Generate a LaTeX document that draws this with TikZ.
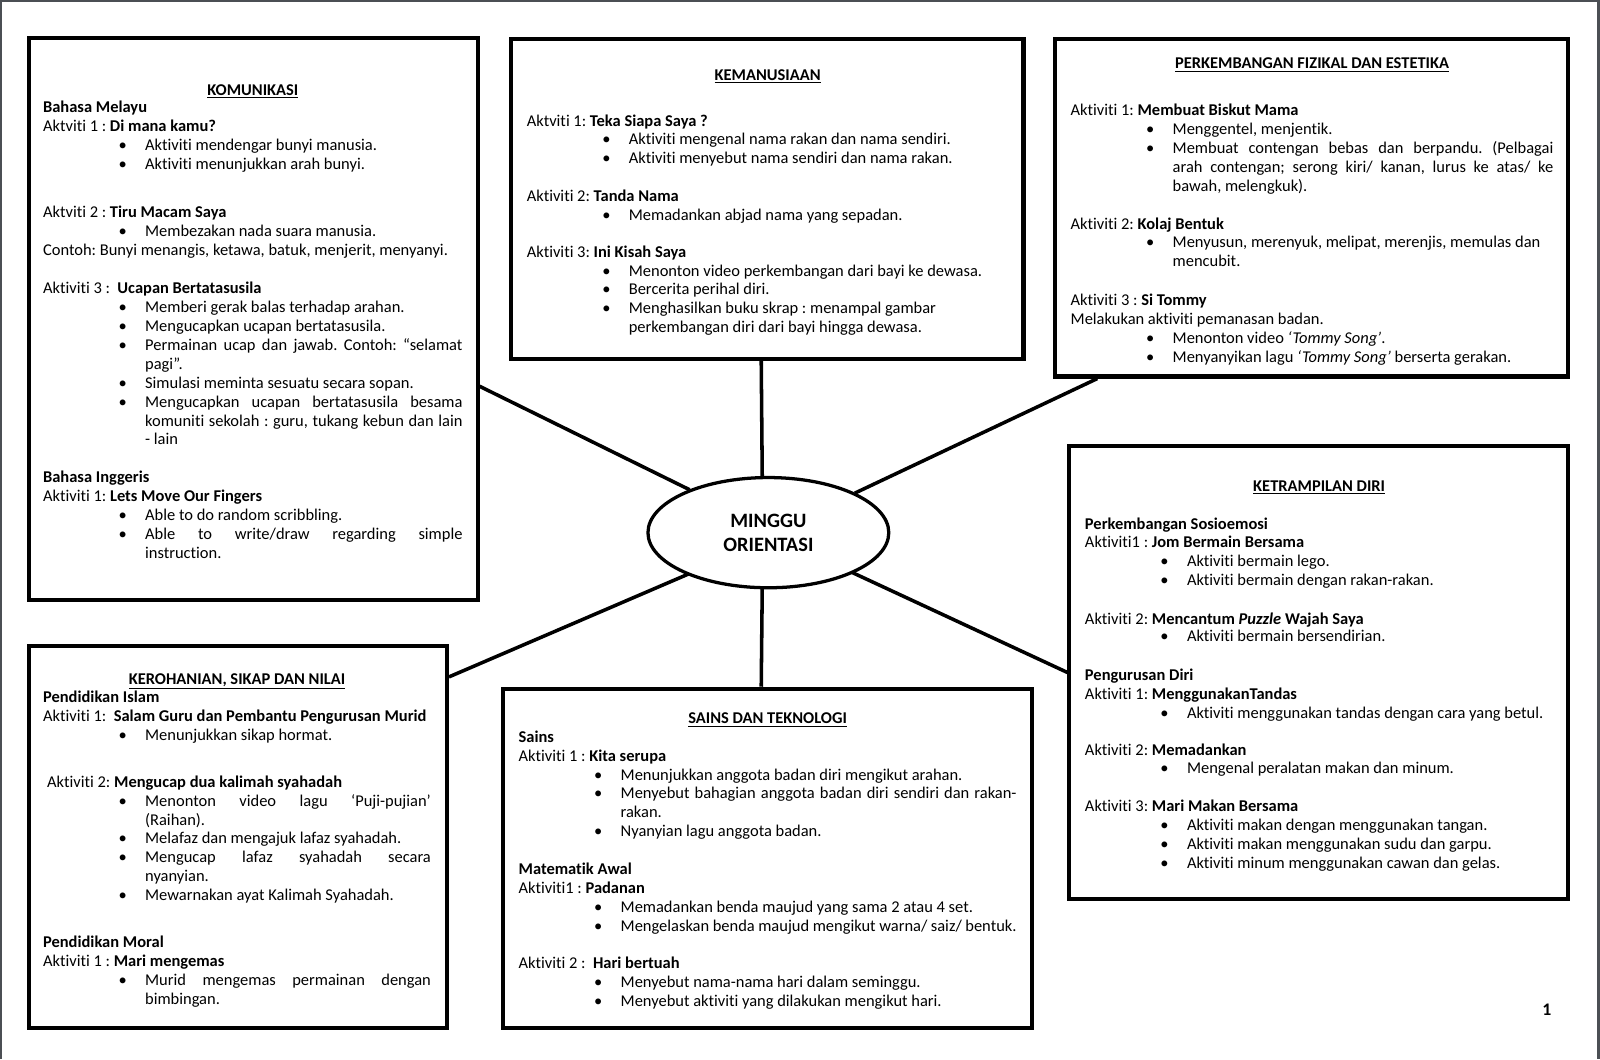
\documentclass[tikz,border=0pt]{standalone}
\usepackage{fontspec}
\setmainfont{Carlito}[Ligatures={TeX,NoCommon}]
\usetikzlibrary{fit,calc,shapes.geometric}
\newdimen\pxu \pxu=0.75pt
\definecolor{edgegray}{RGB}{75,79,84}
\newcommand\gap[1]{\par\vspace{#1\pxu}}
\newcommand\bitem[1]{\par\hangindent=100\pxu\hangafter=1\noindent\hbox to 100\pxu{\hskip74\pxu\textbullet\hfil}#1\par}
\newcommand\ttl[1]{\par\noindent\makebox[\linewidth]{\textbf{\underline{#1}}}\par}
\newenvironment{boxtext}[1]{\begin{minipage}[t]{#1\pxu}\fontsize{12.1}{13.875}\selectfont\frenchspacing\parindent=0pt\parskip=0pt}{\end{minipage}}
\begin{document}
\begin{tikzpicture}[x=0.75pt,y=-0.75pt,
  frame/.style={draw, line width=3pt, inner sep=0pt},
  conn/.style={line width=2.6pt},
  txt/.style={inner sep=0pt, anchor=base west},
  pageedge/.style={draw=edgegray}]
\useasboundingbox (0,0) rectangle (1568,1038);
\fill[white] (0,0) rectangle (1568,1038);
\draw[pageedge, line width=1.5pt] (1,1038) -- (1,1) -- (1566,1);
\draw[pageedge, line width=2.5pt] (1566.5,0) -- (1566.5,1038);

% boxes
\node[frame, fit={(28,37) (468,588)}] (b1) {};
\node[frame, fit={(501,38) (1003,352)}] (b2) {};
\node[frame, fit={(1034,38) (1537,369)}] (b3) {};
\node[frame, fit={(1048,437) (1537,881)}] (b4) {};
\node[frame, fit={(28,633) (438,1007)}] (b5) {};
\node[frame, fit={(493,675) (1011,1007)}] (b6) {};

% centre
\node[ellipse, minimum width=177pt, minimum height=81pt, inner sep=0pt] (ell) at (753,521) {};

% connectors
\draw[conn] ([xshift=-4.5pt]b2.south) -- ([xshift=-4.5pt]ell.north);
\draw[conn] ([xshift=-4.5pt]ell.south) -- ([xshift=-4.5pt]b6.north);
\draw[conn] ($(b1.north east)!0.619!(b1.south east)$) -- (ell.152.5);
\draw[conn] (ell.24.6) -- ($(b3.south west)!0.0855!(b3.south east)$);
\draw[conn] (ell.208) -- ($(b5.north east)!0.0856!(b5.south east)$);
\draw[conn] (ell.334.8) -- (b4.west);

\node[ellipse, draw, line width=2.4pt, fill=white, minimum width=177pt, minimum height=81pt, inner sep=0pt, align=center, font=\bfseries\fontsize{15}{17.25}\selectfont] (elltext) at (753,522) {MINGGU\\ORIENTASI};

% texts
\node[txt] (t1) at (42,93.5) {\begin{boxtext}{411}
\ttl{KOMUNIKASI}
\gap{-1.5}
\textbf{Bahasa Melayu}\par
Aktviti 1 : \textbf{Di mana kamu?}\par
\bitem{Aktiviti mendengar bunyi manusia.}
\bitem{Aktiviti menunjukkan arah bunyi.}
\gap{28.5}
Aktviti 2 : \textbf{Tiru Macam Saya}\par
\bitem{Membezakan nada suara manusia.}
Contoh: Bunyi menangis, ketawa, batuk, menjerit, menyanyi.\par
\gap{19.5}
Aktiviti 3 :\ \ \textbf{Ucapan Bertatasusila}\par
\bitem{Memberi gerak balas terhadap arahan.}
\bitem{Mengucapkan ucapan bertatasusila.}
\bitem{Permainan ucap dan jawab. Contoh: “selamat\linebreak pagi”.}
\bitem{Simulasi meminta sesuatu secara sopan.}
\bitem{Mengucapkan ucapan bertatasusila besama\linebreak komuniti sekolah : guru, tukang kebun dan lain\linebreak - lain}
\gap{18.5}
\textbf{Bahasa Inggeris}\par
Aktiviti 1: \textbf{Lets Move Our Fingers}\par
\bitem{Able to do random scribbling.}
\bitem{Able to write/draw regarding simple\linebreak instruction.}
\end{boxtext}};

\node[txt] (t2) at (516,78.5) {\begin{boxtext}{472}
\ttl{KEMANUSIAAN}
\gap{26.5}
Aktviti 1: \textbf{Teka Siapa Saya ?}\par
\bitem{Aktiviti mengenal nama rakan dan nama sendiri.}
\bitem{Aktiviti menyebut nama sendiri dan nama rakan.}
\gap{18.5}
Aktiviti 2: \textbf{Tanda Nama}\par
\bitem{Memadankan abjad nama yang sepadan.}
\gap{17.5}
Aktiviti 3: \textbf{Ini Kisah Saya}\par
\bitem{Menonton video perkembangan dari bayi ke dewasa.}
\bitem{Bercerita perihal diri.}
\bitem{Menghasilkan buku skrap : menampal gambar\newline perkembangan diri dari bayi hingga dewasa.}
\end{boxtext}};

\node[txt] (t3) at (1049,67.5) {\begin{boxtext}{473}
\ttl{PERKEMBANGAN FIZIKAL DAN ESTETIKA}
\gap{27.5}
Aktiviti 1: \textbf{Membuat Biskut Mama}\par
\bitem{Menggentel, menjentik.}
\bitem{Membuat contengan bebas dan berpandu. (Pelbagai\linebreak arah contengan; serong kiri/ kanan, lurus ke atas/ ke\linebreak bawah, melengkuk).}
\gap{18.5}
Aktiviti 2: \textbf{Kolaj Bentuk}\par
\bitem{Menyusun, merenyuk, melipat, merenjis, memulas dan\newline mencubit.}
\gap{19.5}
Aktiviti 3 : \textbf{Si Tommy}\par
Melakukan aktiviti pemanasan badan.\par
\bitem{Menonton video \textit{‘Tommy Song’}.}
\bitem{Menyanyikan lagu \textit{‘Tommy Song’} berserta gerakan.}
\end{boxtext}};

\node[txt] (t4) at (1063,481.5) {\begin{boxtext}{459}
\ttl{KETRAMPILAN DIRI}
\gap{18.5}
\textbf{Perkembangan Sosioemosi}\par
Aktiviti1 : \textbf{Jom Bermain Bersama}\par
\bitem{Aktiviti bermain lego.}
\bitem{Aktiviti bermain dengan rakan-rakan.}
\gap{19.5}
Aktiviti 2: \textbf{Mencantum \textit{Puzzle} Wajah Saya}\par
\gap{-1.5}
\bitem{Aktiviti bermain bersendirian.}
\gap{19.5}
\textbf{Pengurusan Diri}\par
Aktiviti 1: \textbf{MenggunakanTandas}\par
\bitem{Aktiviti menggunakan tandas dengan cara yang betul.}
\gap{17.5}
Aktiviti 2: \textbf{Memadankan}\par
\bitem{Mengenal peralatan makan dan minum.}
\gap{18.5}
Aktiviti 3: \textbf{Mari Makan Bersama}\par
\bitem{Aktiviti makan dengan menggunakan tangan.}
\bitem{Aktiviti makan menggunakan sudu dan garpu.}
\bitem{Aktiviti minum menggunakan cawan dan gelas.}
\end{boxtext}};

\node[txt] (t5) at (42,670.5) {\begin{boxtext}{380}
\ttl{KEROHANIAN, SIKAP DAN NILAI}
\gap{-0.5}
\textbf{Pendidikan Islam}\par
Aktiviti 1:\ \ \textbf{Salam Guru dan Pembantu Pengurusan Murid}\par
\bitem{Menunjukkan sikap hormat.}
\gap{27.5}
\hspace*{4\pxu}Aktiviti 2: \textbf{Mengucap dua kalimah syahadah}\par
\bitem{Menonton video lagu ‘Puji-pujian’\linebreak (Raihan).}
\bitem{Melafaz dan mengajuk lafaz syahadah.}
\bitem{Mengucap lafaz syahadah secara\linebreak nyanyian.}
\bitem{Mewarnakan ayat Kalimah Syahadah.}
\gap{27.5}
\textbf{Pendidikan Moral}\par
Aktiviti 1 : \textbf{Mari mengemas}\par
\bitem{Murid mengemas permainan dengan\linebreak bimbingan.}
\end{boxtext}};

\node[txt] (t6) at (508,709.5) {\begin{boxtext}{488}
\ttl{SAINS DAN TEKNOLOGI}
\gap{-0.5}
\textbf{Sains}\par
Aktiviti 1 : \textbf{Kita serupa}\par
\bitem{Menunjukkan anggota badan diri mengikut arahan.}
\bitem{Menyebut bahagian anggota badan diri sendiri dan rakan-\linebreak rakan.}
\bitem{Nyanyian lagu anggota badan.}
\gap{18.5}
\textbf{Matematik Awal}\par
Aktiviti1 : \textbf{Padanan}\par
\bitem{Memadankan benda maujud yang sama 2 atau 4 set.}
\bitem{Mengelaskan benda maujud mengikut warna/ saiz/ bentuk.}
\gap{18.5}
Aktiviti 2 :\ \ \textbf{Hari bertuah}\par
\bitem{Menyebut nama-nama hari dalam seminggu.}
\bitem{Menyebut aktiviti yang dilakukan mengikut hari.}
\end{boxtext}};

\node[font=\bfseries\fontsize{13}{15}\selectfont, inner sep=0pt] (pg) at (1516,990) {1};
\end{tikzpicture}
\end{document}
